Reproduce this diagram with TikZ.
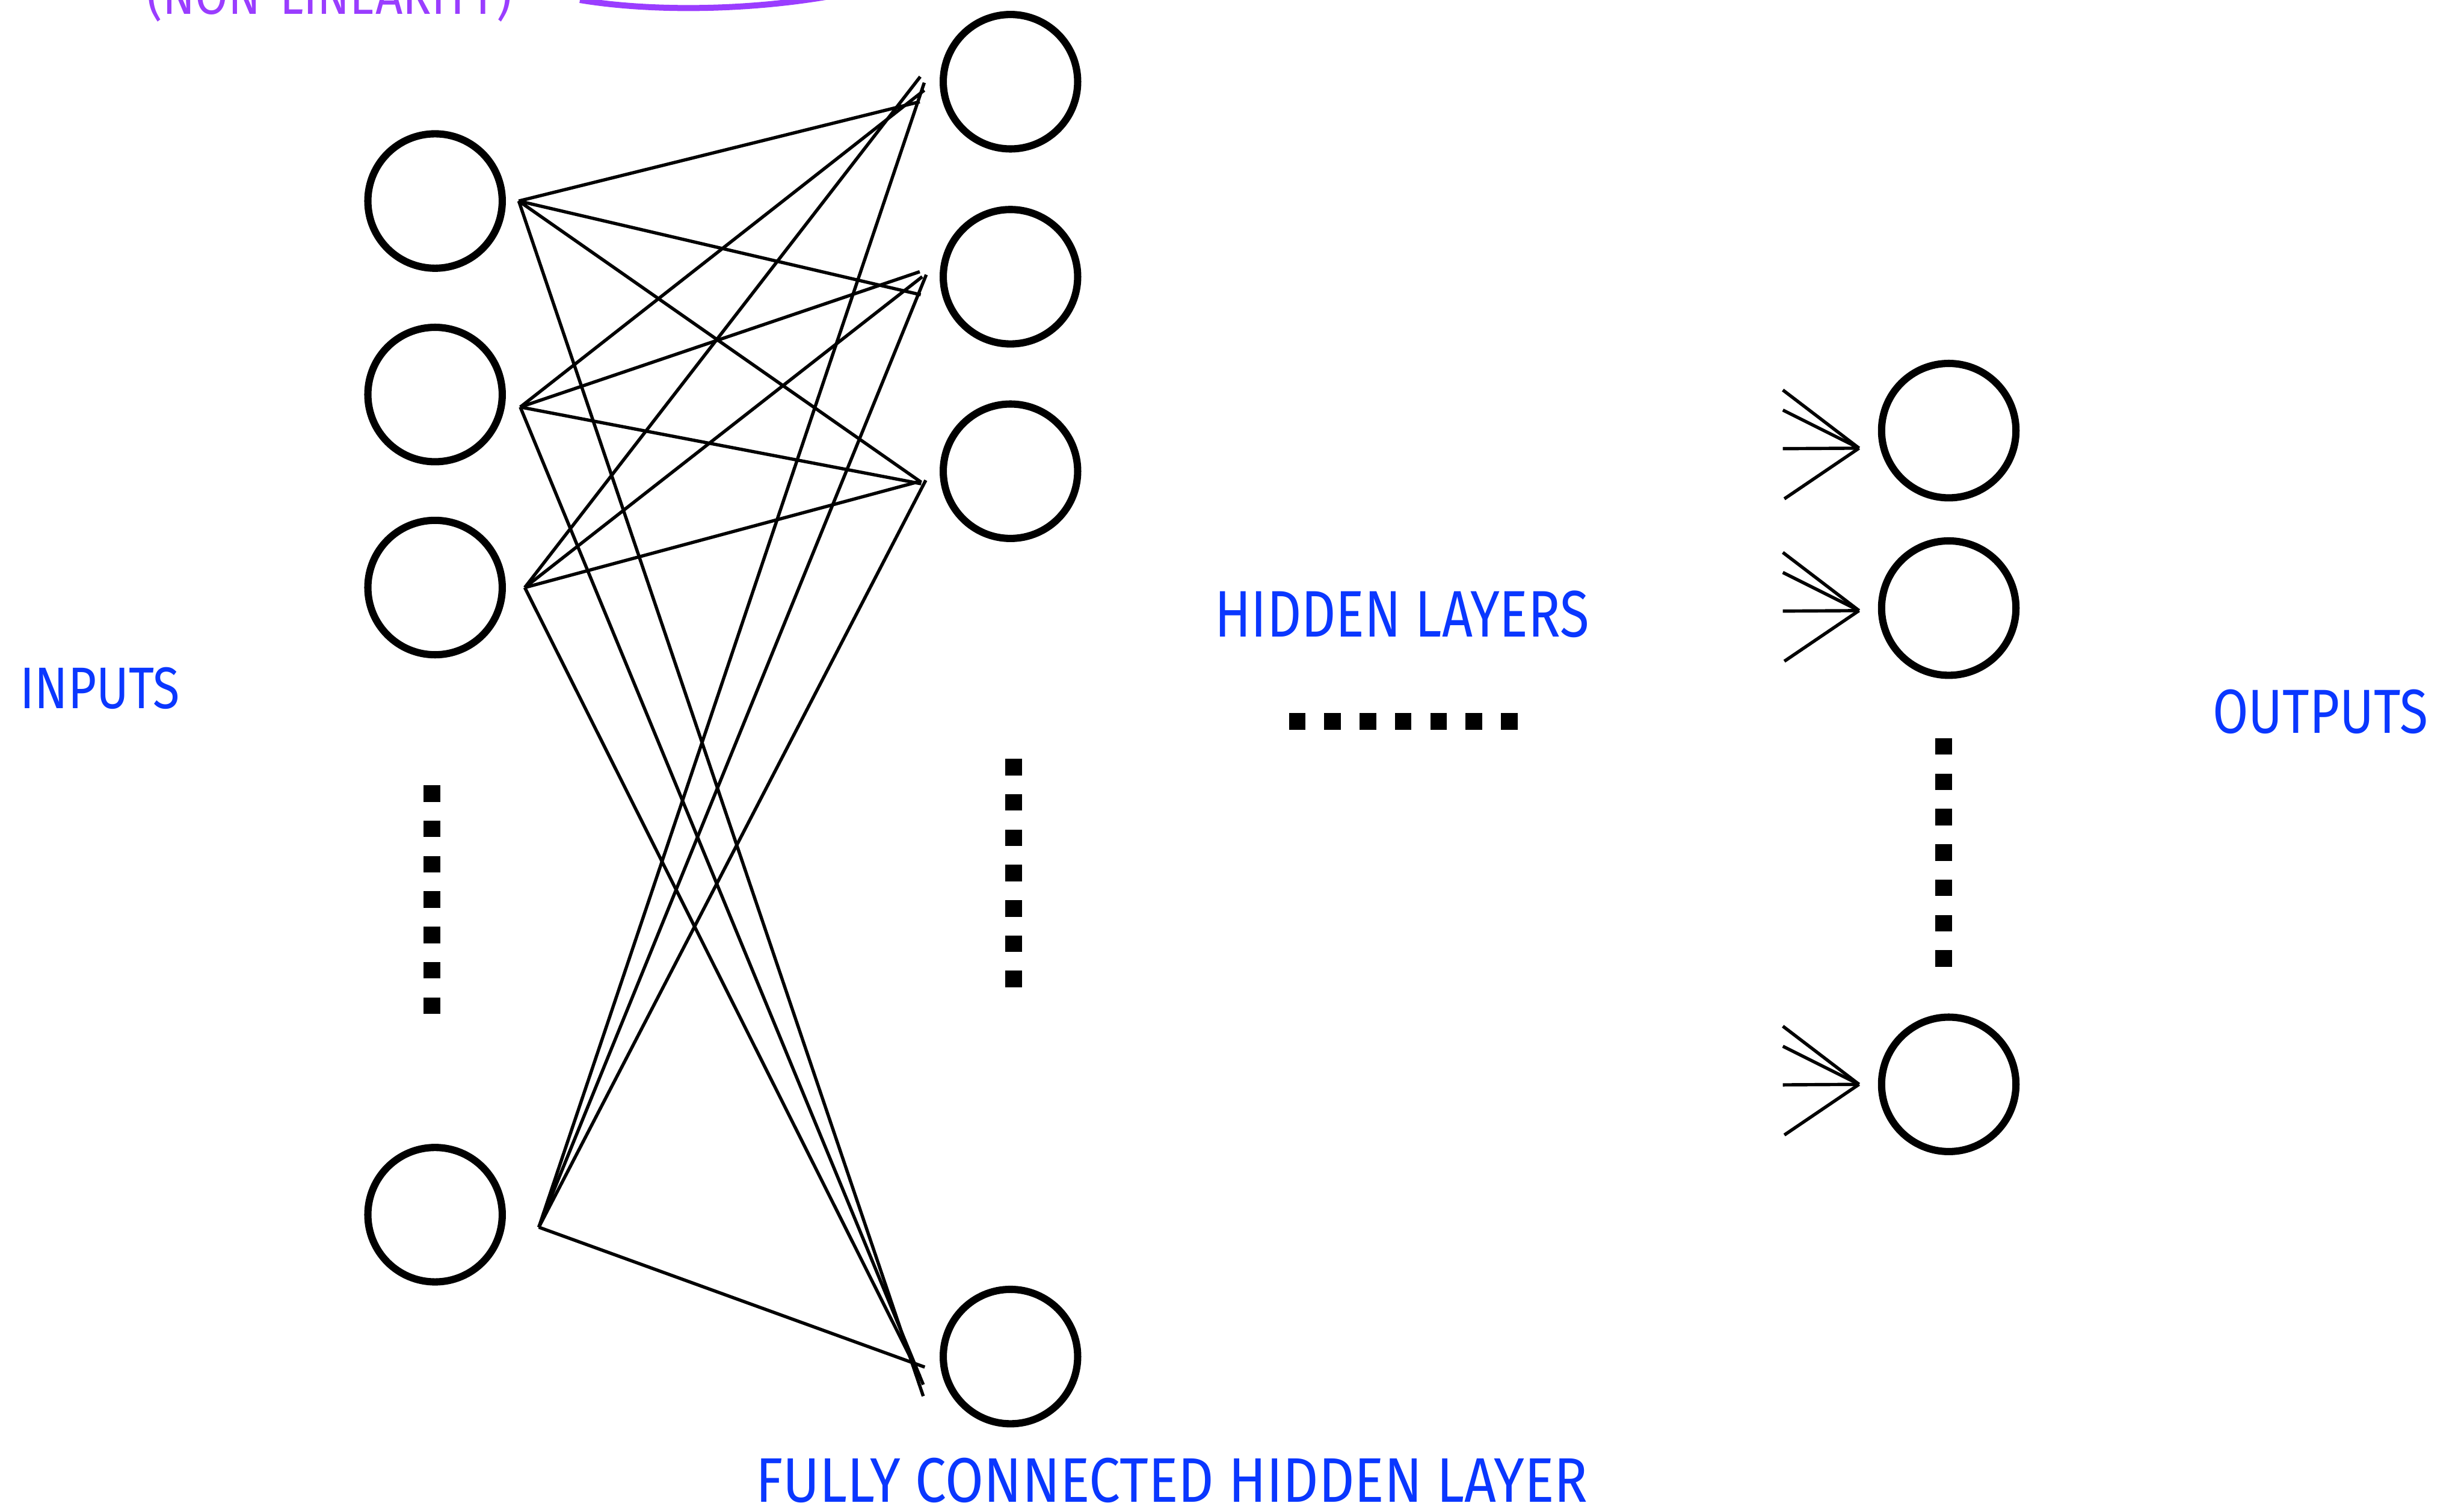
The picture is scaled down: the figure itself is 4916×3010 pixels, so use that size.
\documentclass[tikz,border=0pt]{standalone}
\usepackage{fontspec}
\usepackage{graphicx}
\usetikzlibrary{calc}
\newfontfamily\hand{Fira Sans}
\definecolor{inkblue}{HTML}{0A37FF}
\definecolor{inkviolet}{HTML}{9A3DFF}
\begin{document}
\begin{tikzpicture}[x=0.01cm,y=-0.01cm,
  neuron/.style={circle,draw=black,line width=0.145cm,minimum size=2.68cm,inner sep=0pt},
  dotsq/.style={rectangle,fill=black,minimum size=0.33cm,inner sep=0pt},
  wire/.style={black,line width=0.065cm},
  lbl/.style={inner sep=0pt,text=inkblue},
  vlbl/.style={inner sep=0pt,text=inkviolet}]
\useasboundingbox (0,0) rectangle (4916,3010);
\clip (0,0) rectangle (4916,3010);

% input neurons
\node[neuron] (in1) at (868,401) {};
\node[neuron] (in2) at (868,787) {};
\node[neuron] (in3) at (868,1172) {};
\node[neuron] (in4) at (868,2423) {};
% hidden neurons
\node[neuron] (h1) at (2016,163) {};
\node[neuron] (h2) at (2016,552) {};
\node[neuron] (h3) at (2016,940) {};
\node[neuron] (h4) at (2016,2706) {};
% output neurons
\node[neuron] (o1) at (3888,859) {};
\node[neuron] (o2) at (3888,1213) {};
\node[neuron] (o3) at (3888,2163) {};

% dot columns / row
\foreach \k in {0,...,6} {
  \node[dotsq] (din\k) at (862,{1583+\k*70.5}) {};
  \node[dotsq] (dhid\k) at (2022,{1530+\k*70.5}) {};
  \node[dotsq] (dmid\k) at ({2588+\k*70.5},1439) {};
  \node[dotsq] (dout\k) at (3878,{1489+\k*70.5}) {};
}

% connector end points
\coordinate (s1) at (1035,401);
\coordinate (s2) at (1038,812);
\coordinate (s3) at (1047,1172);
\coordinate (s4) at (1075,2448);

\coordinate (e11) at (1835,203);
\coordinate (e21) at (1844,180);
\coordinate (e31) at (1836,153);
\coordinate (e41) at (1844,165);

\coordinate (e12) at (1837,588);
\coordinate (e22) at (1835,542);
\coordinate (e32) at (1840,552);
\coordinate (e42) at (1848,548);

\coordinate (e13) at (1838,962);
\coordinate (e23) at (1838,965);
\coordinate (e33) at (1836,960);
\coordinate (e43) at (1847,958);

\coordinate (e14) at (1842,2785);
\coordinate (e24) at (1842,2762);
\coordinate (e34) at (1835,2745);
\coordinate (e44) at (1845,2727);

\foreach \i in {1,...,4} {
  \foreach \j in {1,...,4} {
    \draw[wire] (s\i) -- (e\i\j);
  }
}

% incoming arrows to outputs
\coordinate (t1) at (3709,894);
\coordinate (t2) at (3709,1218);
\coordinate (t3) at (3709,2163);
\foreach \n in {1,2,3} {
  \coordinate (a\n) at ($(t\n)+(-152,-116)$);
  \coordinate (b\n) at ($(t\n)+(-152,-76)$);
  \coordinate (c\n) at ($(t\n)+(-152,1)$);
  \coordinate (f\n) at ($(t\n)+(-149,101)$);
  \draw[wire] (a\n) -- (t\n);
  \draw[wire] (b\n) -- (t\n);
  \draw[wire] (c\n) -- (t\n);
  \draw[wire] (f\n) -- (t\n);
}

% violet curve at top
\coordinate (p0) at (1157,0);
\coordinate (p1) at (1720,-20);
\draw[inkviolet,line width=0.12cm] (p0) .. controls (1300,24) and (1520,24) .. (p1);

% labels
\node[vlbl,anchor=base west] (tnl) at (293,28) {\resizebox{7.27cm}{0.9cm}{\hand (NON-LINEARITY)}};
\node[lbl,anchor=south west] (tin) at (40,1415) {\resizebox{3.18cm}{0.82cm}{\hand INPUTS}};
\node[lbl,anchor=south west] (thid) at (2423,1273) {\resizebox{7.47cm}{0.92cm}{\hand HIDDEN LAYERS}};
\node[lbl,anchor=south west] (tout) at (4414,1465) {\resizebox{4.29cm}{0.87cm}{\hand OUTPUTS}};
\node[lbl,anchor=south west] (tfc) at (1507,2998) {\resizebox{16.59cm}{0.88cm}{\hand FULLY CONNECTED HIDDEN LAYER}};
\end{tikzpicture}
\end{document}
